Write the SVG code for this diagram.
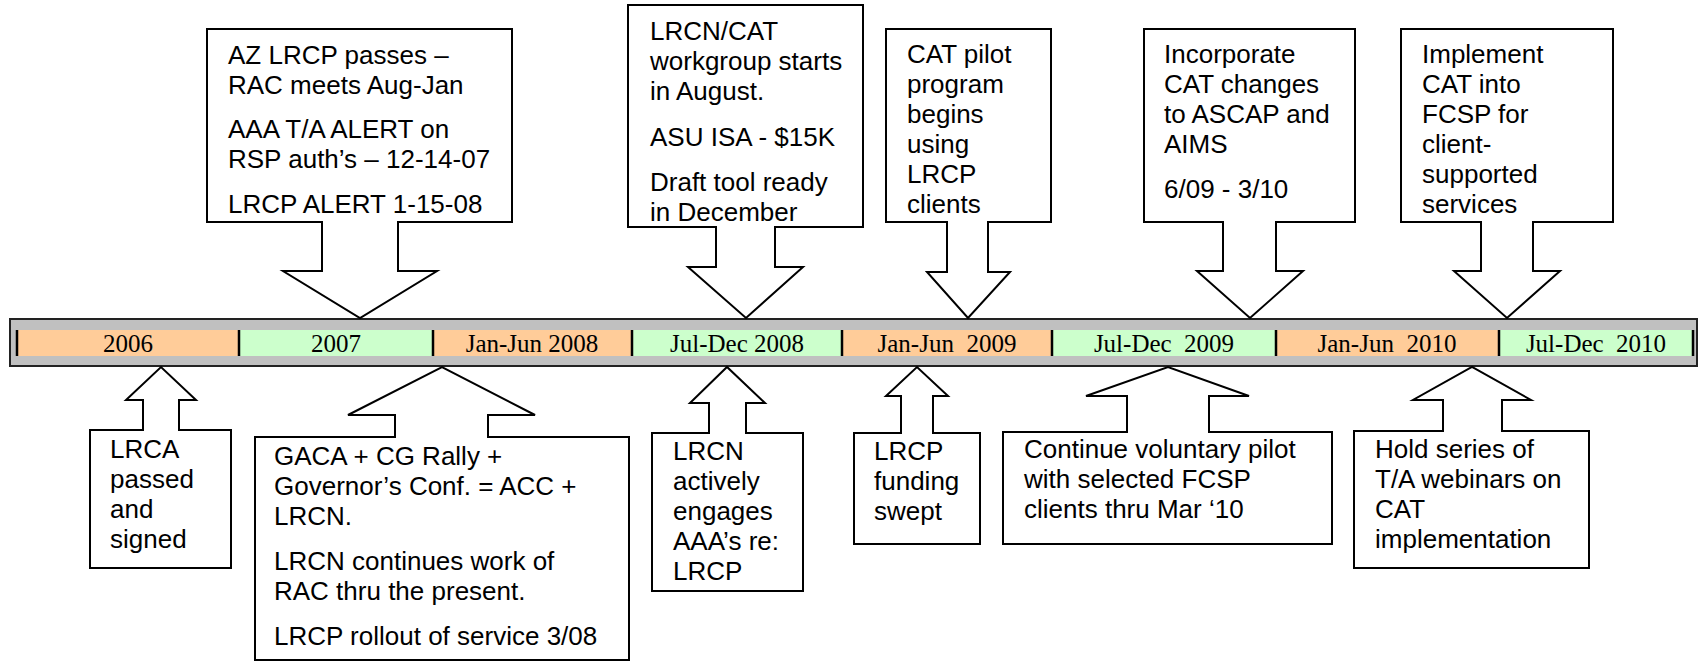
<svg xmlns="http://www.w3.org/2000/svg" width="1701" height="664" viewBox="0 0 1701 664">
<style>
.co{fill:#fff;stroke:#000;stroke-width:2;stroke-linejoin:miter}
.t{font-family:"Liberation Sans",Arial,sans-serif;font-size:26px;fill:#000}
.c{font-family:"Liberation Serif","Times New Roman",serif;font-size:25px;fill:#000;text-anchor:middle;white-space:pre}
.or{fill:#FFCC99}
.gr{fill:#CCFFCC}
.sep{stroke:#000;stroke-width:2.5}
</style>
<rect width="1701" height="664" fill="#fff"/>
<g id="timeline">
<rect x="10" y="319" width="1687" height="47" fill="#C0C0C0" stroke="#222" stroke-width="2"/>
<rect class="or" x="17" y="330" width="222" height="26"/>
<rect class="gr" x="239" y="330" width="194" height="26"/>
<rect class="or" x="433" y="330" width="199" height="26"/>
<rect class="gr" x="632" y="330" width="210" height="26"/>
<rect class="or" x="842" y="330" width="210" height="26"/>
<rect class="gr" x="1052" y="330" width="224" height="26"/>
<rect class="or" x="1276" y="330" width="223" height="26"/>
<rect class="gr" x="1499" y="330" width="194" height="26"/>
<g class="sep">
<line x1="17" y1="330" x2="17" y2="356"/><line x1="239" y1="330" x2="239" y2="356"/>
<line x1="433" y1="330" x2="433" y2="356"/><line x1="632" y1="330" x2="632" y2="356"/>
<line x1="842" y1="330" x2="842" y2="356"/><line x1="1052" y1="330" x2="1052" y2="356"/>
<line x1="1276" y1="330" x2="1276" y2="356"/><line x1="1499" y1="330" x2="1499" y2="356"/>
<line x1="1693" y1="330" x2="1693" y2="356"/>
</g>
<text class="c" x="128" y="352">2006</text>
<text class="c" x="336" y="352">2007</text>
<text class="c" x="532" y="352">Jan-Jun 2008</text>
<text class="c" x="737" y="352">Jul-Dec 2008</text>
<text class="c" x="947" y="352" xml:space="preserve">Jan-Jun  2009</text>
<text class="c" x="1164" y="352" xml:space="preserve">Jul-Dec  2009</text>
<text class="c" x="1387" y="352" xml:space="preserve">Jan-Jun  2010</text>
<text class="c" x="1596" y="352" xml:space="preserve">Jul-Dec  2010</text>
</g>
<g id="connectors"></g>
<g id="top1">
<path class="co" d="M207,29 H512 V222 H398 V271 H437 L360,318 L283,271 H322 V222 H207 Z"/>
<text class="t" x="228" y="64">AZ LRCP passes –</text>
<text class="t" x="228" y="94">RAC meets Aug-Jan</text>
<text class="t" x="228" y="138">AAA T/A ALERT on</text>
<text class="t" x="228" y="168">RSP auth’s – 12-14-07</text>
<text class="t" x="228" y="213">LRCP ALERT 1-15-08</text>
</g>
<g id="top2">
<path class="co" d="M628,5 H863 V227 H775 V267 H803 L746,318 L688,267 H716 V227 H628 Z"/>
<text class="t" x="650" y="40">LRCN/CAT</text>
<text class="t" x="650" y="70">workgroup starts</text>
<text class="t" x="650" y="100">in August.</text>
<text class="t" x="650" y="146">ASU ISA - $15K</text>
<text class="t" x="650" y="191">Draft tool ready</text>
<text class="t" x="650" y="221">in December</text>
</g>
<g id="top3">
<path class="co" d="M886,29 H1051 V222 H988 V272 H1010 L968,318 L927,272 H947 V222 H886 Z"/>
<text class="t" x="907" y="63">CAT pilot</text>
<text class="t" x="907" y="93">program</text>
<text class="t" x="907" y="123">begins</text>
<text class="t" x="907" y="153">using</text>
<text class="t" x="907" y="183">LRCP</text>
<text class="t" x="907" y="213">clients</text>
</g>
<g id="top4">
<path class="co" d="M1144,29 H1355 V222 H1276 V271 H1303 L1250,318 L1197,271 H1223 V222 H1144 Z"/>
<text class="t" x="1164" y="63">Incorporate</text>
<text class="t" x="1164" y="93">CAT changes</text>
<text class="t" x="1164" y="123">to ASCAP and</text>
<text class="t" x="1164" y="153">AIMS</text>
<text class="t" x="1164" y="198">6/09 - 3/10</text>
</g>
<g id="top5">
<path class="co" d="M1401,29 H1613 V222 H1533 V271 H1560 L1507,318 L1454,271 H1481 V222 H1401 Z"/>
<text class="t" x="1422" y="63">Implement</text>
<text class="t" x="1422" y="93">CAT into</text>
<text class="t" x="1422" y="123">FCSP for</text>
<text class="t" x="1422" y="153">client-</text>
<text class="t" x="1422" y="183">supported</text>
<text class="t" x="1422" y="213">services</text>
</g>
<g id="bottom1">
<path class="co" d="M90,430 H143 V400 H126 L161,367 L196,400 H179 V430 H231 V568 H90 Z"/>
<text class="t" x="110" y="458">LRCA</text>
<text class="t" x="110" y="488">passed</text>
<text class="t" x="110" y="518">and</text>
<text class="t" x="110" y="548">signed</text>
</g>
<g id="bottom2">
<path class="co" d="M255,437 H395 V415 H348 L442,367 L535,415 H488 V437 H629 V660 H255 Z"/>
<text class="t" x="274" y="465">GACA + CG Rally +</text>
<text class="t" x="274" y="495">Governor’s Conf. = ACC +</text>
<text class="t" x="274" y="525">LRCN.</text>
<text class="t" x="274" y="570">LRCN continues work of</text>
<text class="t" x="274" y="600">RAC thru the present.</text>
<text class="t" x="274" y="645">LRCP rollout of service 3/08</text>
</g>
<g id="bottom3">
<path class="co" d="M652,433 H709 V403 H690 L727,367 L765,403 H746 V433 H803 V591 H652 Z"/>
<text class="t" x="673" y="460">LRCN</text>
<text class="t" x="673" y="490">actively</text>
<text class="t" x="673" y="520">engages</text>
<text class="t" x="673" y="550">AAA’s re:</text>
<text class="t" x="673" y="580">LRCP</text>
</g>
<g id="bottom4">
<path class="co" d="M854,433 H901 V396 H886 L917,367 L948,396 H933 V433 H980 V544 H854 Z"/>
<text class="t" x="874" y="460">LRCP</text>
<text class="t" x="874" y="490">funding</text>
<text class="t" x="874" y="520">swept</text>
</g>
<g id="bottom5">
<path class="co" d="M1003,432 H1127 V396 H1086 L1168,367 L1249,396 H1209 V432 H1332 V544 H1003 Z"/>
<text class="t" x="1024" y="458">Continue voluntary pilot</text>
<text class="t" x="1024" y="488">with selected FCSP</text>
<text class="t" x="1024" y="518">clients thru Mar ‘10</text>
</g>
<g id="bottom6">
<path class="co" d="M1354,431 H1443 V400 H1413 L1472,367 L1531,400 H1502 V431 H1589 V568 H1354 Z"/>
<text class="t" x="1375" y="458">Hold series of</text>
<text class="t" x="1375" y="488">T/A webinars on</text>
<text class="t" x="1375" y="518">CAT</text>
<text class="t" x="1375" y="548">implementation</text>
</g>
</svg>
